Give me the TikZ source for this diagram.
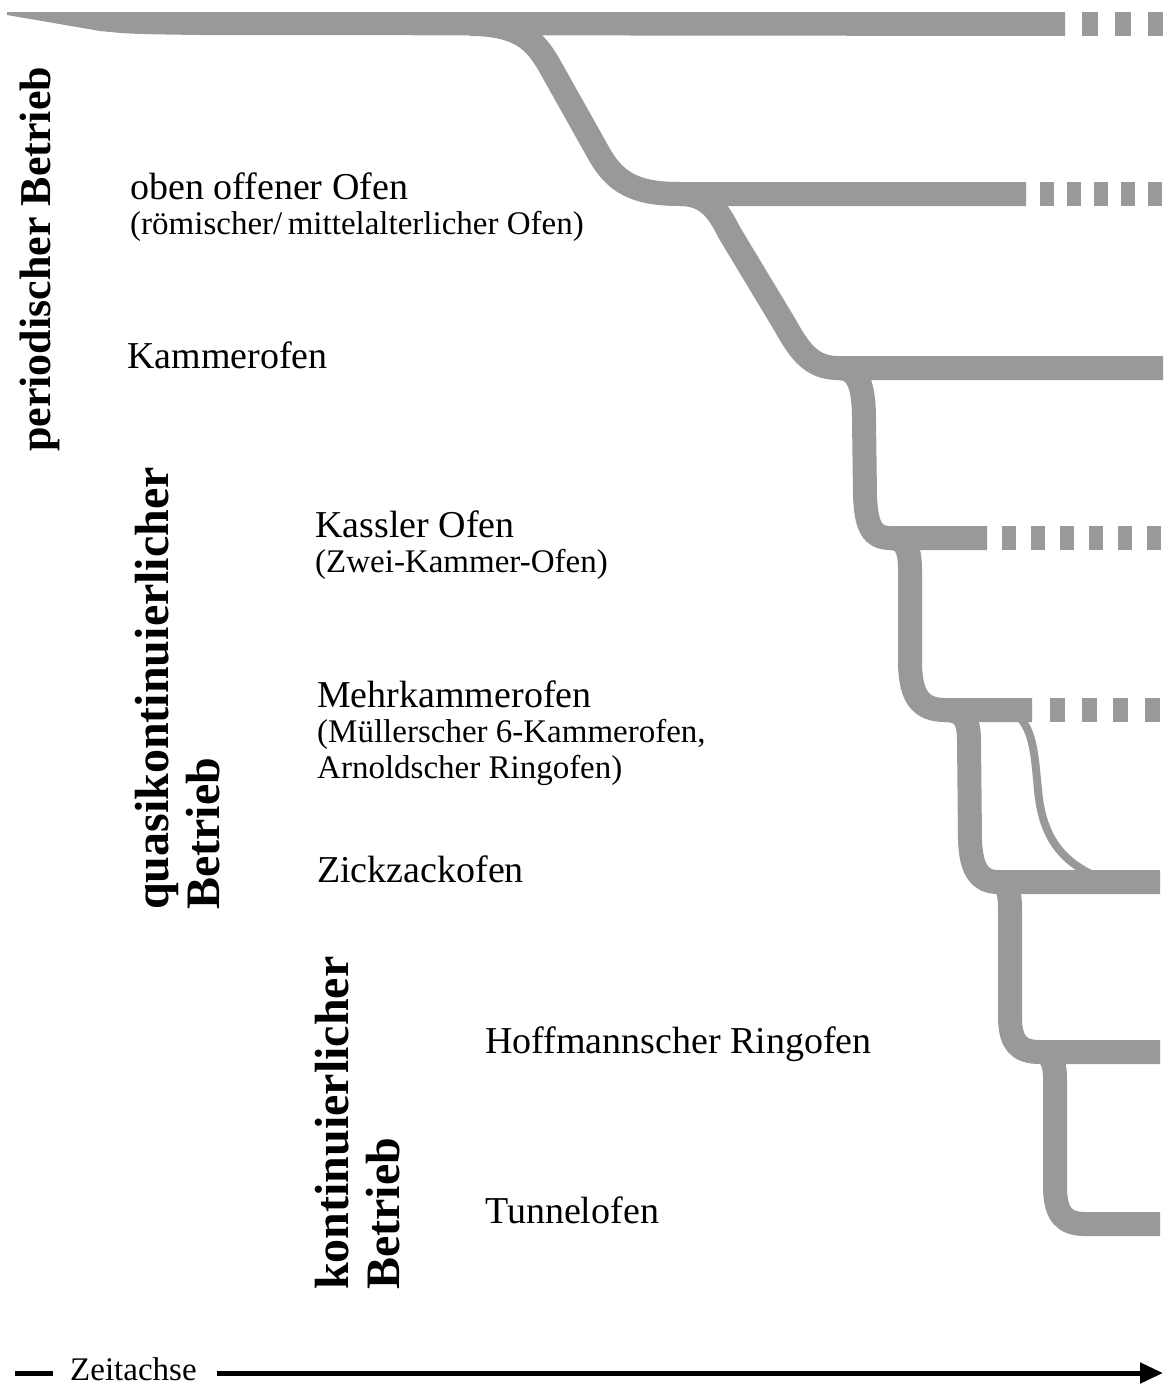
\documentclass[tikz,border=0pt]{standalone}
\usepackage{fontspec}
\setmainfont{Liberation Serif}
\usetikzlibrary{arrows.meta}
\definecolor{bandgray}{gray}{0.6}
\newcommand\lblfont{\fontsize{38}{44}\selectfont}
\newcommand\subfont{\fontsize{33}{36}\selectfont}
\newcommand\modefont{\fontsize{48}{51}\selectfont\bfseries}
\newcommand\topmodefont{\fontsize{44}{50}\selectfont\bfseries}

\begin{document}
\begin{tikzpicture}[x=1pt, y=-1pt,
  band/.style = {draw=bandgray, line width=24pt},
  thinband/.style = {draw=bandgray, line width=8pt},
  lbl/.style = {anchor=base west, inner sep=0pt, font=\lblfont},
  sublbl/.style = {anchor=base west, inner sep=0pt, font=\subfont},
  mode/.style = {rotate=90, anchor=north west, inner sep=0pt, align=left, font=\modefont},
  axis/.style = {line width=5pt, draw=black}]
\useasboundingbox (0,0) rectangle (1163,1387);

\fill[bandgray] (7,12) -- (1065,12) -- (1065,36) -- (200,35) .. controls (130,34) .. (100,31) -- (7,15) -- cycle;
\draw[band, dash pattern=on 16pt off 17pt] (1082,24) -- (1163,24);

\draw[band] (470,24) .. controls (525,24) and (538,45) .. (552,70) -- (598,152) .. controls (615,183) and (635,194) .. (680,194) -- (1026,194);
\draw[band, dash pattern=on 13.5pt off 13.5pt] (1040,194) -- (1163,194);

\draw[band] (680,194) .. controls (708,194) and (719,212) .. (729,232) -- (785,325) .. controls (800,352) and (812,368) .. (838,368) -- (1163,368);

\draw[band] (838,368) .. controls (858,368) and (864,385) .. (864,420) -- (865,495) .. controls (866,526) and (872,538) .. (890,538) -- (987,538);
\draw[band, dash pattern=on 14pt off 15pt] (1002,538) -- (1163,538);

\draw[band] (890,538) .. controls (905,538) and (910,548) .. (910,570) -- (910,665) .. controls (911,696) and (920,710) .. (945,710) -- (1032,710);
\draw[band, dash pattern=on 15pt off 16.5pt] (1050,710) -- (1163,710);

\draw[thinband] (1018,716) .. controls (1034,730) and (1035,760) .. (1038,790) .. controls (1042,835) and (1060,862) .. (1100,878);
\draw[band] (945,710) .. controls (962,710) and (969,718) .. (969,740) -- (970,840) .. controls (971,870) and (980,882) .. (998,882) -- (1160,882);

\draw[band] (998,882) .. controls (1007,882) and (1010,892) .. (1010,908) -- (1010,1020) .. controls (1011,1042) and (1018,1052) .. (1040,1052) -- (1160,1052);

\draw[band] (1040,1052) .. controls (1050,1052) and (1055,1062) .. (1055,1078) -- (1055,1190) .. controls (1056,1214) and (1064,1224) .. (1085,1224) -- (1160,1224);

\node[mode, anchor=base west, font=\topmodefont] (period) at (50,452) {periodischer Betrieb};
\node[mode] (quasi) at (135,910) {quasikontinuierlicher\\Betrieb};
\node[mode] (kont) at (315,1290) {kontinuierlicher\\Betrieb};

\node[lbl] (oben) at (130,199) {oben offener Ofen};
\node[sublbl] (roem) at (130,234) {(römischer/\,mittelalterlicher Ofen)};
\node[lbl] (kammer) at (127,368) {Kammerofen};
\node[lbl] (kassler) at (315,537) {Kassler Ofen};
\node[sublbl] (zwei) at (315,572) {(Zwei-Kammer-Ofen)};
\node[lbl] (mehr) at (317,707) {Mehrkammerofen};
\node[sublbl] (mueller) at (317,742) {(Müllerscher 6-Kammerofen,};
\node[sublbl] (arnold) at (317,778) {Arnoldscher Ringofen)};
\node[lbl] (zickzack) at (317,882) {Zickzackofen};
\node[lbl] (hoffmann) at (485,1053) {Hoffmannscher Ringofen};
\node[lbl] (tunnel) at (485,1223) {Tunnelofen};

\node[sublbl] (zeit) at (70,1380) {Zeitachse};
\coordinate (dstart) at (15,1373);
\coordinate (dend) at (53,1373);
\coordinate (zstart) at (217,1373);
\coordinate (zend) at (1163,1373);
\draw[axis] (dstart) -- (dend);
\draw[axis, -{Triangle[length=23pt, width=20pt]}] (zstart) -- (zend);
\end{tikzpicture}
\end{document}
